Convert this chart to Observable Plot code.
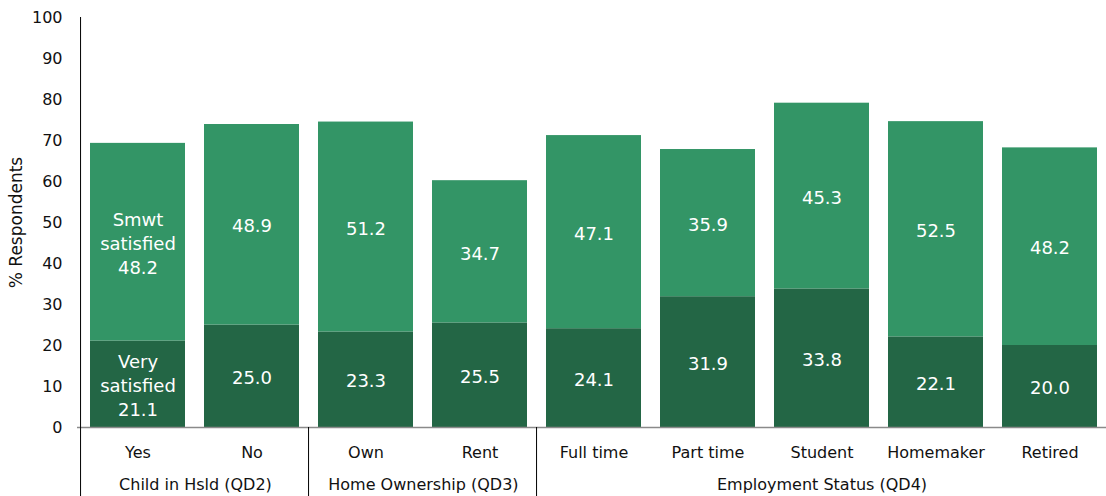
<!DOCTYPE html>
<html><head><meta charset="utf-8">
<script src="https://cdn.jsdelivr.net/npm/d3@7"></script>
<script src="https://cdn.jsdelivr.net/npm/@observablehq/plot@0.6"></script>
<style>
html,body{margin:0;padding:0;background:#fff;}
#chart{width:1106px;height:496px;overflow:hidden;}
</style></head><body><div id="chart"></div>
<script>
// ---- data ----
const categories = ["Yes", "No", "Own", "Rent", "Full time", "Part time", "Student", "Homemaker", "Retired"];
const categoryGroups = ["Child in Hsld (QD2)", "Child in Hsld (QD2)", "Home Ownership (QD3)", "Home Ownership (QD3)",
  "Employment Status (QD4)", "Employment Status (QD4)", "Employment Status (QD4)", "Employment Status (QD4)", "Employment Status (QD4)"];
const groupNames = ["Child in Hsld (QD2)", "Home Ownership (QD3)", "Employment Status (QD4)"];
const seriesNames = ["Very satisfied", "Smwt satisfied"];
const seriesLabelLines = [["Very", "satisfied"], ["Smwt", "satisfied"]];
const verySatisfied = [21.1, 25.0, 23.3, 25.5, 24.1, 31.9, 33.8, 22.1, 20.0];
const smwtSatisfied = [48.2, 48.9, 51.2, 34.7, 47.1, 35.9, 45.3, 52.5, 48.2];
const yTicks = [0, 10, 20, 30, 40, 50, 60, 70, 80, 90, 100];
const yLabel = "% Respondents";

// ---- styling / layout ----
const colors = ["#236645", "#339566"];
const W = 1106, H = 496, mL = 77, mT = 17, mB = 69;
const xRange = [76.5, 1110.5];
const pInner = 0.1645, pOuter = 0.0822;
const step = (xRange[1] - xRange[0]) / (categories.length - pInner + 2 * pOuter);

// ---- table ----
const seriesValues = [verySatisfied, smwtSatisfied];
const rows = [];
seriesNames.forEach((s, si) => {
  categories.forEach((c, ci) => {
    const v = seriesValues[si][ci];
    const label = ci === 0 ? [...seriesLabelLines[si], v.toFixed(1)].join("\n") : v.toFixed(1);
    rows.push({category: c, series: s, value: v, label});
  });
});

const groupStarts = groupNames.map(g => categories[categoryGroups.indexOf(g)]);
const groupCenters = groupNames.map(g => {
  const cats = categories.filter((c, i) => categoryGroups[i] === g);
  const n = cats.length;
  return n % 2 ? {group: g, cat: cats[(n - 1) / 2], even: false} : {group: g, cat: cats[n / 2 - 1], even: true};
});

const chart = Plot.plot({
  width: W, height: H,
  marginLeft: mL, marginRight: 0, marginTop: mT, marginBottom: mB,
  style: {fontFamily: "'DejaVu Sans', Verdana, sans-serif", fontSize: "16px", color: "#111", background: "#fff"},
  x: {domain: categories, range: xRange, paddingInner: pInner, paddingOuter: pOuter, align: 0.5, axis: null},
  y: {domain: [0, 100], axis: null},
  color: {domain: seriesNames, range: colors},
  marks: [
    Plot.barY(rows, {x: "category", y: "value", fill: "series", z: "series"}),
    Plot.text(rows, Plot.stackY({x: "category", y: "value", z: "series", text: "label",
      fill: "#fff", fontSize: 18, lineHeight: 1.333})),
    Plot.ruleY([0], {stroke: "#8a8a8a", strokeWidth: 1.5}),
    Plot.ruleX([categories[0]], {x: d => d, dx: -step / 2, stroke: "#000", insetBottom: -mB}),
    Plot.ruleX(groupStarts.slice(1), {x: d => d, dx: -step / 2, y1: 0, y2: 0, stroke: "#000", insetBottom: -mB}),
    Plot.axisY({ticks: yTicks, tickSize: 0, tickPadding: 15, fontSize: 16, label: null}),
    Plot.axisX({tickSize: 0, tickPadding: 19, fontSize: 16, label: null}),
    Plot.text(groupCenters.filter(d => !d.even), {x: "cat", text: "group", frameAnchor: "bottom", dy: 62, fontSize: 16, fill: "#111"}),
    Plot.text(groupCenters.filter(d => d.even), {x: "cat", text: "group", frameAnchor: "bottom", dy: 62, dx: step / 2, fontSize: 16, fill: "#111"}),
    Plot.text([yLabel], {text: d => d, frameAnchor: "left", textAnchor: "middle", dx: -61, rotate: -90, fontSize: 17, fill: "#111"})
  ]
});
document.getElementById("chart").appendChild(chart);
</script>
</body></html>
